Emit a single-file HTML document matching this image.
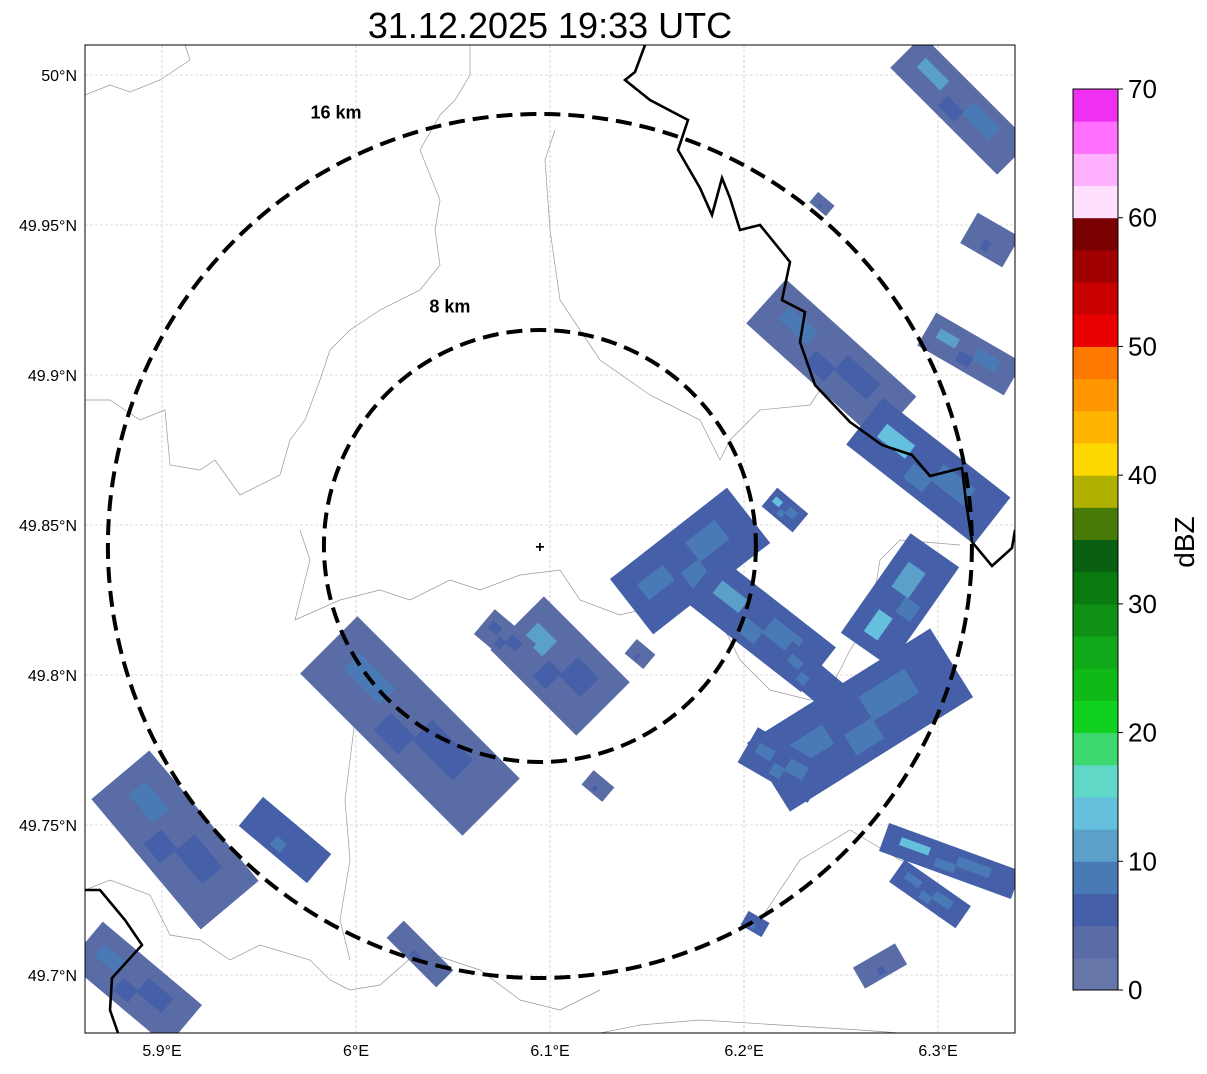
<!DOCTYPE html>
<html><head><meta charset="utf-8"><style>
body{margin:0;background:#fff;width:1207px;height:1069px;overflow:hidden;font-family:"Liberation Sans",sans-serif}
</style></head><body>
<svg id="chart" width="1207" height="1069" xmlns="http://www.w3.org/2000/svg" font-family="Liberation Sans, sans-serif">
<text x="550" y="38" font-size="36" text-anchor="middle">31.12.2025 19:33 UTC</text>
<defs><clipPath id="mapclip"><rect x="85" y="45" width="930" height="988"/></clipPath></defs>
<g id="grid"></g>
<g id="map" clip-path="url(#mapclip)"></g>
<rect x="85" y="45" width="930" height="988" fill="none" stroke="#000" stroke-width="1"/>
<g id="ticks"></g>
<g id="cbar"></g>
</svg>
<script>
const NS="http://www.w3.org/2000/svg";
const lonTicks=[5.9,6.0,6.1,6.2,6.3];
const lonLabels=["5.9°E","6°E","6.1°E","6.2°E","6.3°E"];
const latTicks=[50.0,49.95,49.9,49.85,49.8,49.75,49.7];
const latLabels=["50°N","49.95°N","49.9°N","49.85°N","49.8°N","49.75°N","49.7°N"];
const radarLon=6.0948, radarLat=49.843;
const rangeRings=[8,16];
const ringLabelDx=[-0.417,-0.472];
const ringLabelDy=[-1.08,-0.99];
// echo blobs: lon, lat, length km, width km, angle deg, dBZ, inner dBZ
const echoLon=[6.3113,6.3268,6.3165,6.2450,6.2950,6.2211,6.1052,6.1722,6.2082,6.2804,6.2598,6.0278,5.9067,5.9634,5.8861,6.033,6.1247,6.3062,6.2959,6.2701,6.2057,6.1464,6.2402,6.0768,6.2200,6.2330];
const echoLat=[49.990,49.945,49.907,49.905,49.868,49.855,49.803,49.838,49.817,49.825,49.785,49.783,49.745,49.745,49.697,49.707,49.763,49.738,49.727,49.703,49.717,49.807,49.957,49.812,49.770,49.800];
const echoLen=[5.6,1.8,3.7,6.5,6,1.5,4.5,5.5,5.5,4.5,8,8.5,6.3,3.3,4.8,2.6,1.0,5.2,3,1.8,0.9,0.9,0.8,2,3,2.5];
const echoWid=[1.7,1.3,1.4,2.2,2.2,0.9,2.8,2.6,2.1,2.2,3.0,3.0,2.8,1.4,2.0,0.9,0.7,1.1,1.0,0.9,0.6,0.7,0.5,1.2,1.5,1.2];
const echoAng=[45,30,30,42,38,40,45,-38,38,-55,-32,45,50,40,40,45,40,20,35,-30,30,40,40,40,30,40];
const echoDbz=[4,4,4,4,6,6,4,6,6,6,6,4,4,5,4,4,4,6,6,3,5,4,4,4,6,5];
const echoInner=[12,4,12,9,13,13,10,9,10,14,9,9,8,6,9,4,4,13,9,3,5,4,4,6,9,8];
const cbLevels=[0,2.5,5,7.5,10,12.5,15,17.5,20,22.5,25,27.5,30,32.5,35,37.5,40,42.5,45,47.5,50,52.5,55,57.5,60,62.5,65,67.5,70];
const cbColors=["#6676a8","#5a6ca6","#4560a8","#4a7ab5","#5aa0c8","#64c0dc","#60d8c8","#3ed870","#10d020","#10b818","#10a818","#0e9014","#0a7a10","#086010","#487a08","#b0b000","#ffd800","#ffb400","#ff9800","#ff7800","#e80000","#c80000","#a00000","#780000","#ffe0ff","#ffb0ff","#ff70ff","#f030f0"];
const cbTicks=[0,10,20,30,40,50,60,70];

const X=lon=>162+(lon-5.9)*1940;
const Y=lat=>75+(50-lat)*3000;
const KM=27;
const cbY=v=>990-(v/70)*901;
function colorFor(d){let i=0;while(i<cbLevels.length-2&&d>=cbLevels[i+1])i++;return cbColors[i];}
function mk(tag,attrs,parent){const e=document.createElementNS(NS,tag);for(const k in attrs)e.setAttribute(k,attrs[k]);parent.appendChild(e);return e;}

const grid=document.getElementById('grid'),map=document.getElementById('map'),ticks=document.getElementById('ticks'),cbar=document.getElementById('cbar');
lonTicks.forEach((v,i)=>{
  const l=mk('line',{x1:X(v),x2:X(v),y1:45,y2:1033,stroke:'#bbb','stroke-width':0.6,'stroke-dasharray':'3,2'},grid);
  
  
  const t=mk('text',{x:X(v),y:1056,'font-size':16,'text-anchor':'middle'},ticks);t.textContent=lonLabels[i];
  
  
});
latTicks.forEach((v,i)=>{
  const l=mk('line',{x1:85,x2:1015,y1:Y(v),y2:Y(v),stroke:'#bbb','stroke-width':0.6,'stroke-dasharray':'3,2'},grid);
  
  
  const t=mk('text',{x:77,y:Y(v)+6,'font-size':16,'text-anchor':'end'},ticks);t.textContent=latLabels[i];
  
  
});
// thin admin borders
const thin=["M85,95 L110,85 L130,92 L160,80 L190,60 L185,45","M470,45 L470,75 L455,100 L440,115 L420,150 L440,200 L435,230 L440,265 L420,290 L380,310 L350,330 L330,350 L320,380 L305,420 L290,440 L280,475 L240,495 L215,460 L200,470 L170,465 L165,410 L140,420 L110,400 L85,400","M555,130 L545,160 L550,230 L560,300 L600,360 L650,395 L700,420 L720,460 L730,440 L760,410 L810,405 L820,390","M300,530 L310,560 L295,620 L340,600 L380,590 L410,600 L450,580 L480,590 L520,575 L560,570 L580,600 L620,615 L680,600 L720,620 L740,660 L770,690 L810,700 L830,690 L850,650 L870,620 L880,560 L900,540 L960,545","M85,890 L110,880 L150,895 L170,935 L200,940 L230,960 L260,945 L310,960 L330,980 L350,990 L380,985 L420,950 L480,970 L520,1000 L560,1010 L600,990","M600,1033 L640,1025 L700,1020 L780,1025 L860,1030 L900,1033","M355,720 L350,760 L345,800 L350,860 L340,920 L350,960","M760,920 L800,860 L850,830 L900,860 L960,870 L1015,880"];
thin.forEach(d=>{const p=mk('path',{d:d,fill:'none',stroke:'#999','stroke-width':0.7},map);
  
  });
// echoes
echoLon.forEach((lon,i)=>{
  const cx=X(lon),cy=Y(echoLat[i]),L=echoLen[i]*KM,W=echoWid[i]*KM;
  const g=mk('g',{transform:`translate(${cx},${cy}) rotate(${echoAng[i]})`},map);
  
  
  mk('rect',{x:-L/2,y:-W/2,width:L,height:W,fill:colorFor(echoDbz[i])},g);
  mk('rect',{x:-L/2+L*0.12,y:-W/2+W*0.3,width:L*0.22,height:W*0.28,fill:colorFor(echoInner[i])},g);
  mk('rect',{x:L*0.05,y:-W/4,width:L*0.25,height:W*0.35,fill:colorFor((echoDbz[i]+echoInner[i])/2)},g);
  mk('rect',{x:-L*0.1,y:W*0.05,width:L*0.15,height:W*0.3,fill:colorFor(echoDbz[i]+2.5)},g);
});
// national borders
["M645,45 L635,72 L625,80 L650,100 L688,120 L678,150 L700,188 L712,215 L722,178 L730,198 L740,230 L760,225 L790,262 L782,300 L805,312 L800,342 L815,385 L850,422 L882,445 L912,455 L930,476 L962,468 L966,502 L972,542 L992,566 L1012,548 L1015,530","M85,890 L100,890 L125,920 L142,945 L112,978 L110,1010 L118,1033"].forEach(d=>{
  const p=mk('path',{d:d,fill:'none',stroke:'#000','stroke-width':2.6},map);
  
  
});
// range rings
rangeRings.forEach((r,i)=>{
  const c=mk('circle',{cx:X(radarLon),cy:Y(radarLat),r:r*KM,fill:'none',stroke:'#000','stroke-width':4,'stroke-dasharray':'16,8'},map);
  
  
  const t=mk('text',{x:X(radarLon)+r*KM*ringLabelDx[i],y:Y(radarLat)+r*KM*ringLabelDy[i],'font-size':18,'font-weight':'bold','text-anchor':'middle'},map);
  t.textContent=r+' km';
  
  
});
const rm=mk('text',{x:X(radarLon),y:Y(radarLat)+6,'font-size':16,'font-weight':'bold','text-anchor':'middle'},map);rm.textContent='+';


// colorbar
for(let i=0;i<cbColors.length;i++){
  const r=mk('rect',{x:1073,y:cbY(cbLevels[i+1]),width:45,height:cbY(cbLevels[i])-cbY(cbLevels[i+1])+0.5,fill:cbColors[i]},cbar);
  
  
}
mk('rect',{x:1073,y:89,width:45,height:901,fill:'none',stroke:'#000','stroke-width':1},cbar);
cbTicks.forEach(v=>{
  mk('line',{x1:1118,x2:1123,y1:cbY(v),y2:cbY(v),stroke:'#000'},cbar);
  const t=mk('text',{x:1128,y:cbY(v)+9,'font-size':26},cbar);t.textContent=v;
  
  
});
const cl=mk('text',{x:1194,y:542,'font-size':28,'text-anchor':'middle',transform:'rotate(-90 1194 542)'},cbar);cl.textContent='dBZ';


</script>
</body></html>
